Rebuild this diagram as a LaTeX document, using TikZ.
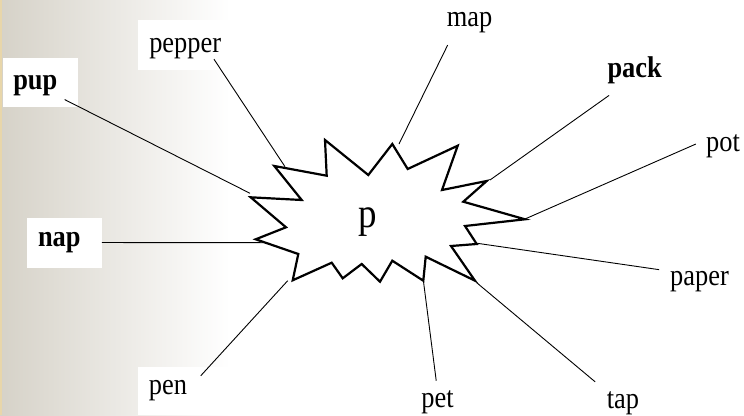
\documentclass[tikz,border=0pt]{standalone}
\usepackage{fontspec}
\setmainfont[FakeStretch=0.88]{Liberation Serif}
\usepackage{tikz}

\definecolor{fadegray}{RGB}{214,210,200}
\definecolor{edgetan}{RGB}{232,214,170}

\begin{document}
\begin{tikzpicture}[x=1pt,y=-1pt,
        word/.style={inner sep=0pt,font=\fontsize{30}{34}\selectfont},
        bword/.style={inner sep=0pt,font=\fontsize{30}{34}\selectfont\bfseries},
        spoke/.style={line width=0.9pt},
        burst/.style={line width=2.2pt,line join=miter,fill=white}]
        \useasboundingbox (0,0) rectangle (744,415);
        \shade[left color=fadegray,right color=white] (0,0) rectangle (230,415);
        \fill[edgetan] (0,0) rectangle (2,415);
        \fill[white] (138,20) rectangle (230,70);
        \fill[white] (3.3,58.3) rectangle (78.3,107.3);
        \fill[white] (27.3,218.3) rectangle (101.7,268.3);
        \fill[white] (138,367) rectangle (230,415);
        %
        \node[word] (pepper) at (185.2,48.7) {pepper};
        \node[bword] (pup) at (35.3,85.5) {pup};
        \node[bword] (nap) at (59.3,242.5) {nap};
        \node[word] (pen) at (168,390.5) {pen};
        \node[word] (map) at (469.5,23) {map};
        \node[bword] (pack) at (634.7,70) {pack};
        \node[word] (pot) at (723,146.5) {pot};
        \node[word] (paper) at (699.5,281.7) {paper};
        \node[word] (pet) at (437.5,402.5) {pet};
        \node[word] (tap) at (623,403.3) {tap};
        %
        \coordinate (bPepper) at (285,166.7);
        \coordinate (bPup) at (250,193.3);
        \coordinate (bNap) at (263.3,242.7);
        \coordinate (bPen) at (287.7,280.7);
        \coordinate (bMap) at (399,144);
        \coordinate (bPack) at (490,180);
        \coordinate (bPot) at (525,219);
        \coordinate (bPaper) at (477.3,243.3);
        \coordinate (bPet) at (423.3,280);
        \coordinate (bTap) at (476.7,282.7);
        %
        \draw[spoke] (pepper.-20) -- (bPepper);
        \draw[spoke,shorten <=8pt] (pup.south east) -- (bPup);
        \draw[spoke,shorten <=21pt] (nap.east) -- (bNap);
        \draw[spoke,shorten <=20pt] (pen.east) -- (bPen);
        \draw[spoke,shorten <=13pt] (map.213) -- (bMap);
        \draw[spoke,shorten <=20pt] (pack.236) -- (bPack);
        \draw[spoke,shorten <=11pt] (pot.158) -- (bPot);
        \draw[spoke,shorten <=11pt] (paper.north west) -- (bPaper);
        \draw[spoke,shorten <=10pt] (pet.north) -- (bPet);
        \draw[spoke,shorten <=15pt] (tap.north west) -- (bTap);
        %
        \draw[burst] (274.3,166) -- (326.7,175.7) -- (325,140) -- (368.3,175)
            -- (392.3,144) -- (407.7,169) -- (457.7,145.7) -- (442,190)
            -- (486.7,181) -- (463.3,201.7) -- (525,219.3) -- (465,226)
            -- (476.7,244) -- (451,246) -- (475,280.7) -- (425.7,256.7)
            -- (423.3,280.7) -- (392.3,260.7) -- (380,281.7) -- (361.7,264)
            -- (342.7,278.3) -- (331.7,262.7) -- (292.7,280.3) -- (298.3,254)
            -- (255.7,239.3) -- (286,227.3) -- (250.7,197.3) -- (301.7,200) -- cycle;
        \node[font=\fontsize{42}{46}\selectfont] (core) at (368,222) {p};
\end{tikzpicture}
\end{document}
